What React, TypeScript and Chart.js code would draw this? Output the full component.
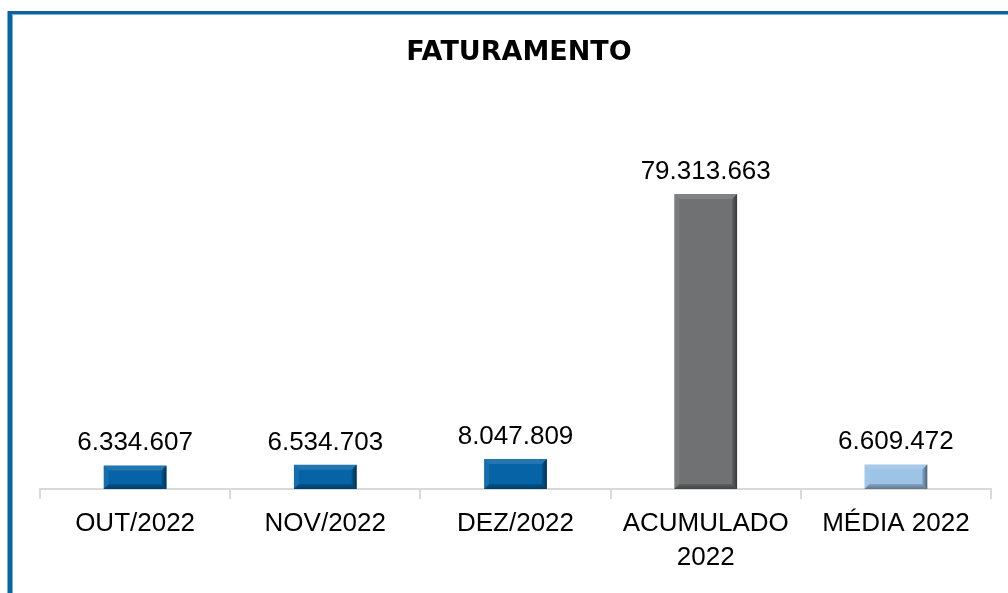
import React, { useEffect, useRef } from "react";
import { Chart, registerables } from "chart.js";

Chart.register(...registerables);

const TITLE = "FATURAMENTO";
const categories: (string | string[])[] = ["OUT/2022", "NOV/2022", "DEZ/2022", ["ACUMULADO", "2022"], "MÉDIA 2022"];
const values: number[] = [6334607, 6534703, 8047809, 79313663, 6609472];
const valueLabels: string[] = ["6.334.607", "6.534.703", "8.047.809", "79.313.663", "6.609.472"];

const BAR_COLORS = ["#0563a6", "#0563a6", "#0563a6", "#707173", "#9dc3e6"];
const FRAME_COLOR = "#0862a4";

const W = 1008;
const H = 593;

const framePlugin = {
  id: "frame",
  beforeDraw(chart: any) {
    const ctx = chart.ctx;
    ctx.save();
    ctx.fillStyle = "#ffffff";
    ctx.fillRect(0, 0, W, H);
    ctx.fillStyle = "#7fb0d8";
    ctx.fillRect(7, 11, 1, H);
    ctx.fillRect(12, 14, W, 1);
    ctx.fillRect(12, 14, 1, H);
    ctx.fillStyle = FRAME_COLOR;
    ctx.fillRect(8, 11, 4, H);
    ctx.fillRect(8, 11, W, 3);
    // title
    ctx.fillStyle = "#000000";
    ctx.font = "bold 27px 'DejaVu Sans'";
    ctx.textAlign = "center";
    ctx.textBaseline = "alphabetic";
    ctx.fillText(TITLE, 519, 60);
    ctx.restore();
  },
};

const bevelPlugin = {
  id: "bevel",
  afterDatasetsDraw(chart: any) {
    const ctx = chart.ctx;
    const meta = chart.getDatasetMeta(0);
    ctx.save();
    meta.data.forEach((bar: any, i: number) => {
      const { x, y, base, width } = bar.getProps(["x", "y", "base", "width"], true);
      const l = x - width / 2;
      const r = x + width / 2;
      const t = y;
      const b = base;
      const bv = Math.min(5, (b - t) / 3);
      const poly = (pts: number[][], fill: any) => {
        ctx.beginPath();
        ctx.moveTo(pts[0][0], pts[0][1]);
        for (let k = 1; k < pts.length; k++) ctx.lineTo(pts[k][0], pts[k][1]);
        ctx.closePath();
        ctx.fillStyle = fill;
        ctx.fill();
      };
      // top
      poly([[l, t], [r, t], [r - bv, t + bv], [l + bv, t + bv]], "rgba(255,255,255,0.12)");
      // left
      poly([[l, t], [l + bv, t + bv], [l + bv, b - bv], [l, b]], "rgba(255,255,255,0.07)");
      // right
      const gr = ctx.createLinearGradient(r - bv, 0, r, 0);
      gr.addColorStop(0, "rgba(0,0,0,0.15)");
      gr.addColorStop(1, "rgba(0,0,0,0.5)");
      poly([[r, t], [r, b], [r - bv, b - bv], [r - bv, t + bv]], gr);
      // bottom
      const gb = ctx.createLinearGradient(0, b - bv, 0, b);
      gb.addColorStop(0, "rgba(0,0,0,0.15)");
      gb.addColorStop(1, "rgba(0,0,0,0.4)");
      poly([[l, b], [r, b], [r - bv, b - bv], [l + bv, b - bv]], gb);
      // value label
      ctx.fillStyle = "#000000";
      ctx.font = "26px 'Liberation Sans'";
      ctx.textAlign = "center";
      ctx.textBaseline = "alphabetic";
      ctx.fillText(valueLabels[i], x, t - 15);
    });
    ctx.restore();
  },
};

export default function App() {
  const ref = useRef<HTMLCanvasElement | null>(null);
  useEffect(() => {
    if (!ref.current) return;
    const chart = new Chart(ref.current, {
      type: "bar",
      data: {
        labels: categories,
        datasets: [
          {
            data: values,
            backgroundColor: BAR_COLORS,
            borderWidth: 0,
            categoryPercentage: 1,
            barPercentage: 0.33,
          },
        ],
      },
      options: {
        responsive: false,
        animation: false,
        devicePixelRatio: 1,
        layout: { padding: { left: 40, right: 17, top: 117, bottom: 0 } },
        plugins: {
          legend: { display: false },
          title: { display: false },
          tooltip: { enabled: false },
        },
        scales: {
          y: {
            display: false,
            min: 0,
            max: 100000000,
          },
          x: {
            offset: true,
            grid: {
              display: true,
              offset: true,
              drawOnChartArea: false,
              drawTicks: true,
              tickLength: 10,
              color: "#d9d9d9",
              lineWidth: 2,
            },
            border: { display: true, color: "#d9d9d9", width: 2 },
            ticks: {
              color: "#000000",
              font: { size: 26, family: "'Liberation Sans'", lineHeight: 1.3 },
              padding: 8,
              maxRotation: 0,
              autoSkip: false,
            },
            afterFit: (scale: any) => {
              scale.height = H - 489;
            },
          },
        },
      },
      plugins: [framePlugin, bevelPlugin],
    });
    return () => chart.destroy();
  }, []);
  return (
    <div style={{ position: "absolute", left: 0, top: 0, width: W, height: H }}>
      <canvas ref={ref} width={W} height={H} style={{ display: "block" }} />
    </div>
  );
}
